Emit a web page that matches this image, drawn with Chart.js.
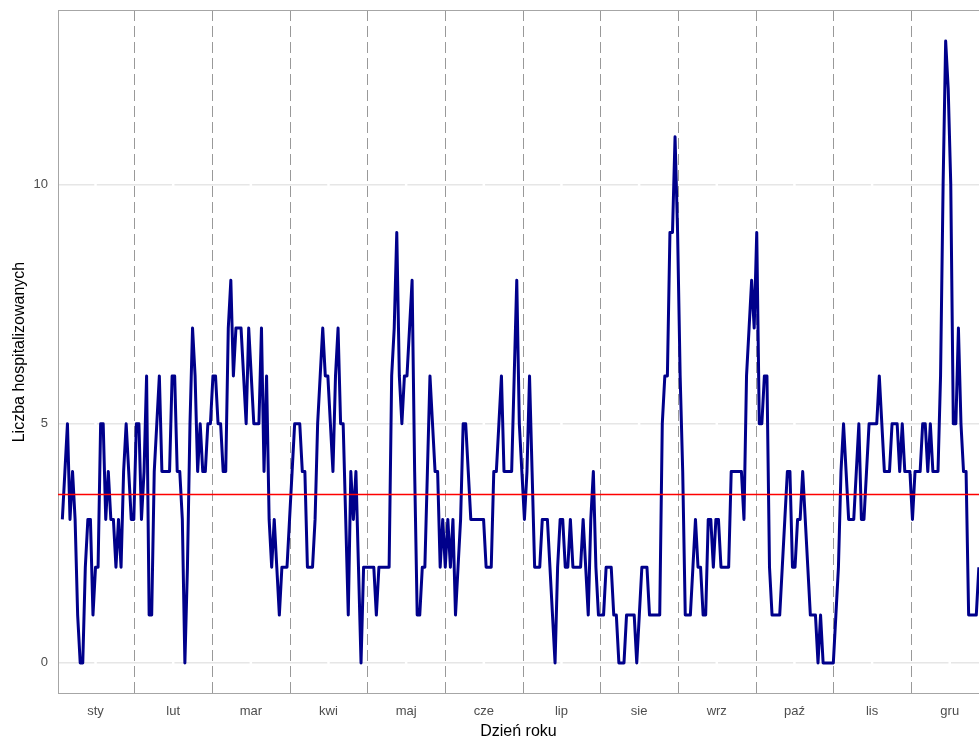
<!DOCTYPE html>
<html lang="pl">
<head>
<meta charset="utf-8">
<title>Liczba hospitalizowanych w ciągu roku</title>
<script src="https://cdn.jsdelivr.net/npm/chart.js@4.4.1/dist/chart.umd.min.js"></script>
<style>
  html, body { margin: 0; padding: 0; background: #ffffff; }
  canvas { display: block; }
</style>
</head>
<body>
<canvas id="wykresHospitalizacji" width="979" height="738"></canvas>
<script>
// Dzienna liczba hospitalizowanych, kolejne dni roku (od 1 stycznia)
const liczbaHospitalizowanych = [
  3, 4, 5, 3, 4, 3, 1, 0, 0, 2, 3, 3, 1, 2, 2, 5, 5, 3, 4, 3, 3, 2, 3, 2, 4, 5, 4, 3, 3, 5,
  5, 3, 4, 6, 1, 1, 4, 5, 6, 4, 4, 4, 4, 6, 6, 4, 4, 3, 0, 2, 5, 7, 6, 4, 5, 4, 4, 5, 5, 6,
  6, 5, 5, 4, 4, 7, 8, 6, 7, 7, 7, 6, 5, 7, 6, 5, 5, 5, 7, 4, 6, 3, 2, 3, 2, 1, 2, 2, 2, 3,
  4, 5, 5, 5, 4, 4, 2, 2, 2, 3, 5, 6, 7, 6, 6, 5, 4, 6, 7, 5, 5, 3, 1, 4, 3, 4, 2, 0, 2, 2,
  2, 2, 2, 1, 2, 2, 2, 2, 2, 6, 7, 9, 6, 5, 6, 6, 7, 8, 4, 1, 1, 2, 2, 4, 6, 5, 4, 4, 2, 3,
  2, 3, 2, 3, 1, 2, 3, 5, 5, 4, 3, 3, 3, 3, 3, 3, 2, 2, 2, 4, 4, 5, 6, 4, 4, 4, 4, 6, 8, 5,
  4, 3, 4, 6, 4, 2, 2, 2, 3, 3, 3, 2, 1, 0, 2, 3, 3, 2, 2, 3, 2, 2, 2, 2, 3, 2, 1, 3, 4, 2,
  1, 1, 1, 2, 2, 2, 1, 1, 0, 0, 0, 1, 1, 1, 1, 0, 1, 2, 2, 2, 1, 1, 1, 1, 1, 5, 6, 6, 9, 9,
  11, 9, 6, 4, 1, 1, 1, 2, 3, 2, 2, 1, 1, 3, 3, 2, 3, 3, 2, 2, 2, 2, 4, 4, 4, 4, 4, 3, 6, 7,
  8, 7, 9, 5, 5, 6, 6, 2, 1, 1, 1, 1, 2, 3, 4, 4, 2, 2, 3, 3, 4, 3, 2, 1, 1, 1, 0, 1, 0, 0,
  0, 0, 0, 1, 2, 4, 5, 4, 3, 3, 3, 4, 5, 3, 3, 4, 5, 5, 5, 5, 6, 5, 4, 4, 4, 5, 5, 5, 4, 5,
  4, 4, 4, 3, 4, 4, 4, 5, 5, 4, 5, 4, 4, 4, 6, 10, 13, 12, 10, 5, 5, 7, 5, 4, 4, 1, 1, 1, 1, 2
];

const miesiace = ['sty', 'lut', 'mar', 'kwi', 'maj', 'cze', 'lip', 'sie', 'wrz', 'paź', 'lis', 'gru'];
const podzialkaY = [0, 5, 10];
const sredniaDzienna = 3.52;

// zakres osi i rozmieszczenie miesięcy (w dniach)
const poczatekOsi = -0.7;
const koniecOsi = 360.06;
const dlugoscMiesiaca = 365 / 12;
const przesuniecieMiesiecy = -1.2;

const graniceMiesiecy = miesiace.slice(1).map((m, i) => (i + 1) * dlugoscMiesiaca + przesuniecieMiesiecy);
const srodkiMiesiecy = miesiace.map((m, i) => (i + 0.5) * dlugoscMiesiaca + przesuniecieMiesiecy);

const punkty = liczbaHospitalizowanych.map((v, i) => ({ x: i + 1, y: v }));

// przerwy w siatce, przerywane granice miesięcy i ramka panelu
const tloPanelu = {
  id: 'tloPanelu',
  beforeDatasetsDraw(chart) {
    const { ctx, chartArea: a, scales: { x } } = chart;
    ctx.save();
    ctx.strokeStyle = '#ffffff';
    ctx.lineWidth = 2.5;
    srodkiMiesiecy.forEach(v => {
      const px = x.getPixelForValue(v);
      ctx.beginPath();
      ctx.moveTo(px, a.top);
      ctx.lineTo(px, a.bottom);
      ctx.stroke();
    });
    ctx.strokeStyle = '#999999';
    ctx.lineWidth = 1;
    ctx.setLineDash([11, 5]);
    graniceMiesiecy.forEach(v => {
      const px = Math.round(x.getPixelForValue(v)) + 0.5;
      ctx.beginPath();
      ctx.moveTo(px, a.top);
      ctx.lineTo(px, a.bottom);
      ctx.stroke();
    });
    ctx.setLineDash([]);
    ctx.strokeStyle = '#a6a6a6';
    ctx.strokeRect(a.left + 0.5, a.top + 0.5, a.width, a.height - 1);
    ctx.restore();
  }
};

// bez dodatkowego miejsca na skrajne etykiety osi
const bezMarginesu = scale => {
  scale.paddingTop = 0;
  scale.paddingBottom = 0;
  scale.paddingLeft = 0;
  scale.paddingRight = 0;
};

const fontTekstu = 'Liberation Sans, Arial, sans-serif';

new Chart(document.getElementById('wykresHospitalizacji').getContext('2d'), {
  type: 'line',
  data: {
    datasets: [{
      label: 'Średnia',
      data: [{ x: poczatekOsi, y: sredniaDzienna }, { x: koniecOsi, y: sredniaDzienna }],
      borderColor: '#ff0000',
      borderWidth: 1.5,
      pointRadius: 0,
      order: 0
    }, {
      label: 'Liczba hospitalizowanych',
      data: punkty,
      borderColor: '#00008b',
      borderWidth: 3,
      borderJoinStyle: 'round',
      pointRadius: 0,
      tension: 0,
      order: 1
    }]
  },
  options: {
    responsive: false,
    devicePixelRatio: 1,
    animation: false,
    layout: { padding: { top: 10, right: 0, bottom: 0, left: 0 } },
    plugins: {
      legend: { display: false },
      tooltip: { enabled: false }
    },
    scales: {
      x: {
        type: 'linear',
        min: poczatekOsi,
        max: koniecOsi,
        afterBuildTicks: scale => { scale.ticks = srodkiMiesiecy.map(v => ({ value: v })); },
        afterFit: scale => { scale.height = 44; bezMarginesu(scale); },
        grid: { display: false },
        border: { display: false },
        ticks: {
          autoSkip: false,
          maxRotation: 0,
          padding: 2,
          color: '#4d4d4d',
          font: { family: fontTekstu, size: 13 },
          callback: (v, i) => miesiace[i]
        },
        title: {
          display: true,
          text: 'Dzień roku',
          color: '#000000',
          font: { family: fontTekstu, size: 16 },
          padding: { top: 0, bottom: -3 }
        }
      },
      y: {
        min: -0.65,
        max: 13.65,
        afterBuildTicks: scale => { scale.ticks = podzialkaY.map(v => ({ value: v })); },
        afterFit: scale => { scale.width = 58; bezMarginesu(scale); },
        grid: { color: '#e6e6e6', lineWidth: 1.5, drawTicks: false },
        border: { display: false },
        ticks: {
          padding: 10,
          color: '#4d4d4d',
          font: { family: fontTekstu, size: 13 }
        },
        title: {
          display: true,
          text: 'Liczba hospitalizowanych',
          color: '#000000',
          font: { family: fontTekstu, size: 16 },
          padding: { top: 10, bottom: 0 }
        }
      }
    }
  },
  plugins: [tloPanelu]
});
</script>
</body>
</html>
